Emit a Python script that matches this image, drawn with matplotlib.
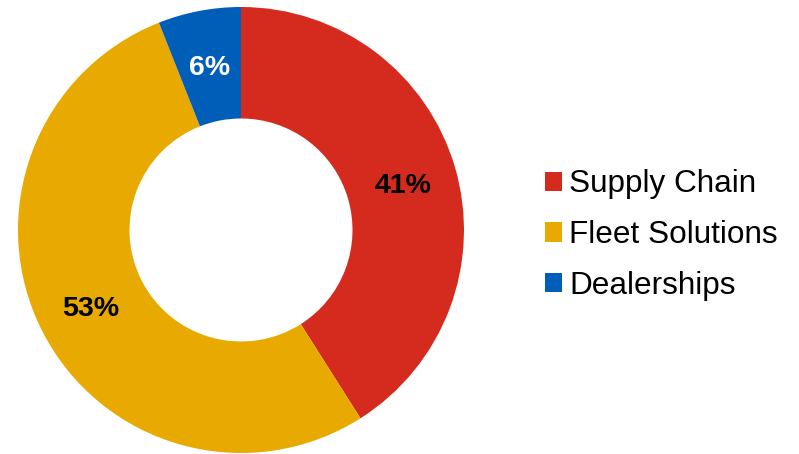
import numpy as np
import matplotlib.pyplot as plt
from matplotlib.patches import Patch

plt.rcParams['font.family'] = ['Liberation Sans', 'DejaVu Sans']

labels = ['Supply Chain', 'Fleet Solutions', 'Dealerships']
shares = [41, 53, 6]
colors = ['#D52B1E', '#E8A900', '#005EB8']
pct_colors = ['black', 'black', 'white']

fig = plt.figure(figsize=(7.99, 4.54), dpi=100)
ax = fig.add_axes([18 / 799, 1 / 454, 446 / 799, 446 / 454])

wedges, texts = ax.pie(shares, colors=colors, startangle=90, counterclock=False,
                       wedgeprops=dict(width=0.5, edgecolor='none'), radius=1)
# percentage labels
for w, s, c in zip(wedges, shares, pct_colors):
    mid = np.deg2rad((w.theta1 + w.theta2) / 2)
    ax.text(0.755 * np.cos(mid), 0.755 * np.sin(mid), f'{s}%', ha='center',
            va='center_baseline', fontsize=20.5, fontweight='bold', color=c)
ax.set_xlim(-1, 1)
ax.set_ylim(-1, 1)
ax.set_aspect('equal')
ax.axis('off')

handles = [Patch(facecolor=c, edgecolor='none') for c in colors]
fig.legend(handles, labels, loc='center left', bbox_to_anchor=(532 / 799, 0.482),
           frameon=False, fontsize=22.7, handlelength=0.56, handleheight=0.56,
           handletextpad=0.22, labelspacing=0.66, borderaxespad=0)

fig.savefig('out.png', dpi=100)
